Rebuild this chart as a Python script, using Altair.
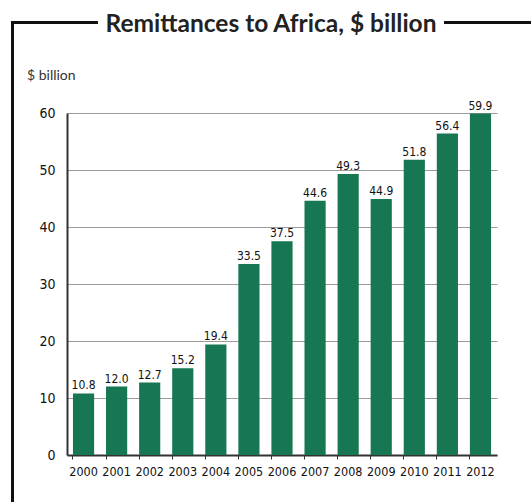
import altair as alt
import pandas as pd

years = ["2000", "2001", "2002", "2003", "2004", "2005", "2006", "2007", "2008", "2009", "2010", "2011", "2012"]
values = [10.8, 12.0, 12.7, 15.2, 19.4, 33.5, 37.5, 44.6, 49.3, 44.9, 51.8, 56.4, 59.9]
labels = ["10.8", "12.0", "12.7", "15.2", "19.4", "33.5", "37.5", "44.6", "49.3", "44.9", "51.8", "56.4", "59.9"]
title_text = "Remittances to Africa, $ billion"
unit_text = "$ billion"

df = pd.DataFrame({"year": years, "value": values, "label": labels})

W, H = 430, 342
PL, PT = 67, 113
NUM_FONT = "DejaVu Sans Condensed, Liberation Sans Narrow, Liberation Sans, sans-serif"
GREEN = "#177752"

xscale = alt.Scale(paddingInner=0.36, paddingOuter=0.18)
yscale = alt.Scale(domain=[0, 60], nice=False)

base = alt.Chart(df)

bars = base.mark_bar(color=GREEN).encode(
    x=alt.X("year:N", scale=xscale, sort=years,
            axis=alt.Axis(title=None, labelAngle=0, ticks=False, domain=True, orient="bottom",
                          domainColor="#333333", domainWidth=2,
                          labelFont=NUM_FONT, labelFontSize=12.5, labelColor="#111111",
                          labelPadding=10)),
    y=alt.Y("value:Q", scale=yscale,
            axis=alt.Axis(title=None, values=[0, 10, 20, 30, 40, 50, 60], ticks=False,
                          domainColor="#333333", domainWidth=2,
                          grid=True, gridColor="#9a9a9a", gridWidth=1.2,
                          labelFont=NUM_FONT, labelFontSize=14, labelColor="#111111",
                          labelPadding=12)),
)

text = base.mark_text(font=NUM_FONT, fontSize=12, color="#111111", baseline="bottom", dy=-1).encode(
    x=alt.X("year:N", sort=years, axis=None),
    y=alt.Y("value:Q"),
    text="label:N",
)

# decorative frame
frame_df = pd.DataFrame({"k": [0]})
fx = -PL + 12.5
fy = -PT + 22.5
left_line = alt.Chart(frame_df).mark_rule(color="#111111", strokeWidth=3).encode(
    x=alt.value(fx), y=alt.value(fy - 1.5), y2=alt.value(502 - PT)
)
top_left = alt.Chart(frame_df).mark_rule(color="#111111", strokeWidth=3).encode(
    x=alt.value(fx), x2=alt.value(98 - PL), y=alt.value(fy)
)
top_right = alt.Chart(frame_df).mark_rule(color="#111111", strokeWidth=3).encode(
    x=alt.value(444 - PL), x2=alt.value(531 - PL), y=alt.value(fy)
)
title = alt.Chart(pd.DataFrame({"t": [title_text]})).mark_text(
    font="Lato", fontWeight="bold", fontSize=24.5, color="#222222", align="center", baseline="middle"
).encode(x=alt.value(271 - PL), y=alt.value(25 - PT), text="t:N")
unit = alt.Chart(pd.DataFrame({"t": [unit_text]})).mark_text(
    font="Lato", fontSize=14, color="#333333", align="left", baseline="middle"
).encode(x=alt.value(27 - PL), y=alt.value(76 - PT), text="t:N")

# x ticks between bands
ticks_layer = base.mark_bar(opacity=0).encode(
    x=alt.X("year:N", sort=years,
            axis=alt.Axis(title=None, labels=False, domain=False, ticks=True, bandPosition=0,
                          orient="bottom", tickColor="#333333", tickSize=4, tickWidth=1)),
)

chart = alt.layer(bars, ticks_layer, text, left_line, top_left, top_right, title, unit).resolve_axis(
    x="independent"
).properties(
    width=W, height=H,
    autosize=alt.AutoSizeParams(type="none"),
    padding={"left": PL, "top": PT, "right": 531 - PL - W, "bottom": 502 - PT - H},
    background="white",
).configure_view(stroke=None)

chart.save("out.html", embed_options={"renderer": "svg", "actions": False})
